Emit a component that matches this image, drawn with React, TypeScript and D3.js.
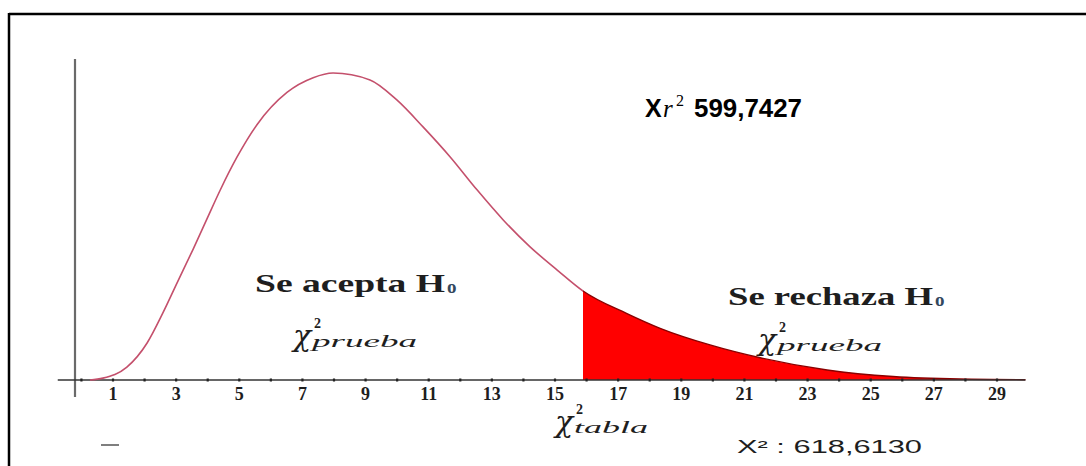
import React from "react";
import * as d3 from "d3";

// ---- data ----
const curveX = [0.27, 0.68, 1.44, 2.08, 2.58, 3.03, 3.54, 3.98, 4.39, 4.93, 5.56, 6.51, 7.34, 7.97, 9.14, 9.99, 10.82, 11.68, 12.53, 13.36, 14.21, 15.07, 15.89, 17.28, 18.33, 19.91, 21.5, 23.62, 25.71, 27.83, 29.9];
const curveY = [0, 0.0006, 0.0041, 0.0118, 0.0214, 0.031, 0.0418, 0.0515, 0.0605, 0.0712, 0.0815, 0.0918, 0.0965, 0.098, 0.0958, 0.0894, 0.0808, 0.0712, 0.0607, 0.0511, 0.0425, 0.0351, 0.0284, 0.0212, 0.0165, 0.0112, 0.0071, 0.0032, 0.0011, 0.0003, 0.0001];
const criticalX = 15.89;
const tickLabels = [1, 3, 5, 7, 9, 11, 13, 15, 17, 19, 21, 23, 25, 27, 29];
const minorTicks = d3.range(0, 30);
const statLabel = "599,7427";
const chiLabel = "618,6130";
const acceptLabel = "Se acepta H";
const rejectLabel = "Se rechaza H";

const W = 1086;
const H = 466;

export default function App() {
  const x = d3.scaleLinear().domain([1, 29]).range([113, 997]);
  const y = d3.scaleLinear().domain([0, 0.098]).range([380, 73]);
  const pts: [number, number][] = curveX.map((v, i) => [v, curveY[i]]);
  const line = d3
    .line<[number, number]>()
    .x((d) => x(d[0]))
    .y((d) => y(d[1]))
    .curve(d3.curveMonotoneX);
  const area = d3
    .area<[number, number]>()
    .x((d) => x(d[0]))
    .y0(y(0))
    .y1((d) => y(d[1]))
    .curve(d3.curveMonotoneX);
  const serif = "'Liberation Serif', 'DejaVu Serif', serif";
  const dserif = "'DejaVu Serif', serif";
  const sans = "'Liberation Sans', Arial, sans-serif";
  const textCol = "#1e1e1e";

  const Chi = ({ cx, by, sub, subLen }: { cx: number; by: number; sub: string; subLen: number }) => (
    <g>
      <text x={cx} y={by} fontFamily={dserif} fontStyle="italic" fontSize={30} fill={textCol}>
        χ
      </text>
      <text x={cx + 21} y={by - 18} fontFamily={serif} fontSize={14} fontWeight="bold" fill={textCol}>
        2
      </text>
      <text
        x={cx + 19}
        y={by + 1}
        fontFamily={serif}
        fontStyle="italic"
        fontSize={16}
        fill={textCol}
        textLength={subLen}
        lengthAdjust="spacingAndGlyphs"
      >
        {sub}
      </text>
    </g>
  );

  return (
    <svg
      width={W}
      height={H}
      style={{ position: "absolute", left: 0, top: 0, background: "#fff" }}
    >
      <defs>
        <clipPath id="tail">
          <rect x={x(criticalX)} y={0} width={W} height={H} />
        </clipPath>
        <clipPath id="head">
          <rect x={0} y={0} width={x(criticalX)} height={H} />
        </clipPath>
      </defs>
      {/* frame */}
      <line x1={9} y1={14} x2={W} y2={14} stroke="#000" strokeWidth={2.5} />
      <line x1={9} y1={13} x2={9} y2={H} stroke="#000" strokeWidth={2.5} />

      {/* vertical axis */}
      <line x1={75} y1={59} x2={75} y2={397} stroke="#6a6a6a" strokeWidth={2.2} />

      {/* rejection area */}
      <path d={area(pts) || ""} fill="#ff0000" clipPath="url(#tail)" />
      <path d={line(pts) || ""} fill="none" stroke="#8a0000" strokeWidth={1.4} clipPath="url(#tail)" />

      {/* x axis */}
      <line x1={x(-0.75)} y1={y(0)} x2={x(29.9)} y2={y(0)} stroke="#333" strokeWidth={1.6} />
      {minorTicks.map((t) => (
        <line key={t} x1={x(t)} x2={x(t)} y1={y(0) - 1.5} y2={y(0) + 1.5} stroke="#222" strokeWidth={2.2} />
      ))}
      {tickLabels.map((t) => (
        <text
          key={t}
          x={x(t)}
          y={400}
          textAnchor="middle"
          fontFamily={serif}
          fontWeight="bold"
          fontSize={18}
          fill={textCol}
        >
          {t}
        </text>
      ))}

      {/* curve */}
      <path d={line(pts) || ""} fill="none" stroke="#c4506c" strokeWidth={1.6} clipPath="url(#head)" />

      {/* annotations */}
      <text x={645} y={117} fontFamily={sans} fontWeight="bold" fontSize={25} fill="#000">X</text>
      <text x={663} y={117} fontFamily={serif} fontStyle="italic" fontSize={25} fill="#000">r</text>
      <text x={676} y={106} fontFamily={serif} fontSize={16} fill="#000">2</text>
      <text x={694} y={117} fontFamily={sans} fontWeight="bold" fontSize={25} fill="#000" textLength={108} lengthAdjust="spacingAndGlyphs">
        {statLabel}
      </text>

      <text x={255} y={292} fontFamily={serif} fontWeight="bold" fontSize={25} fill={textCol} textLength={190} lengthAdjust="spacingAndGlyphs">
        {acceptLabel}
      </text>
      <text x={447} y={293} fontFamily={serif} fontWeight="bold" fontSize={19} fill="#34485e">o</text>

      <text x={728} y={305} fontFamily={serif} fontWeight="bold" fontSize={25} fill={textCol} textLength={205} lengthAdjust="spacingAndGlyphs">
        {rejectLabel}
      </text>
      <text x={935} y={306} fontFamily={serif} fontWeight="bold" fontSize={19} fill="#34485e">o</text>

      <Chi cx={293} by={346} sub="prueba" subLen={105} />
      <Chi cx={758} by={350} sub="prueba" subLen={105} />
      <Chi cx={555} by={432} sub="tabla" subLen={74} />

      <text x={737} y={453} fontFamily={sans} fontSize={18} fill={textCol} textLength={185} lengthAdjust="spacingAndGlyphs">
        X² : {chiLabel}
      </text>
      <line x1={101} y1={445} x2={119} y2={445} stroke="#555" strokeWidth={1.5} />
    </svg>
  );
}
